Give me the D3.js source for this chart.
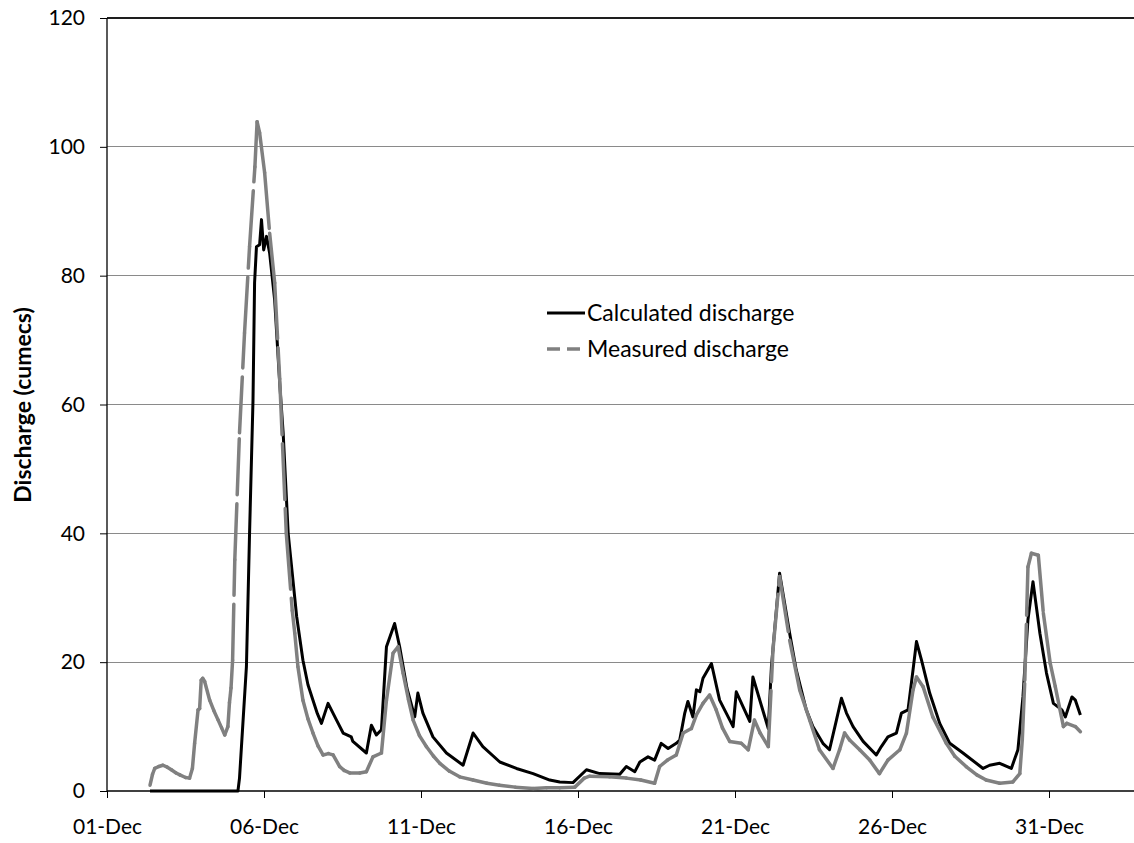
<!DOCTYPE html>
<html>
<head>
<meta charset="utf-8">
<script src="https://cdn.jsdelivr.net/npm/d3@7"></script>
<style>
  body { margin: 0; background: #fff; }
  svg { display: block; font-family: Lato, "Open Sans", sans-serif; }
</style>
</head>
<body>
<script>
// discharge series, [days since 01-Dec 00:00, cumecs]
var calculated = [
  [1.37,0],[4.17,0],[4.22,2],[4.44,19.3],[4.54,40],[4.65,60.7],[4.7,78.9],[4.76,84.5],[4.86,84.8],
  [4.92,88.7],[4.99,84],[5.08,86.1],[5.18,83.5],[5.34,76.2],[5.5,63.3],[5.61,55.6],[5.77,40],
  [6.04,27.1],[6.24,20.3],[6.4,16.5],[6.56,14.1],[6.7,12],[6.83,10.5],[7.04,13.6],[7.31,11.0],
  [7.52,9.0],[7.78,8.4],[7.83,7.7],[8.26,5.9],[8.42,10.2],[8.58,8.7],[8.74,9.5],[8.9,22.4],
  [9.16,26.0],[9.32,22.4],[9.55,16],[9.8,11.5],[9.9,15.2],[10.06,12.1],[10.38,8.4],[10.81,5.9],
  [11.34,4.0],[11.66,9.0],[11.97,6.9],[12.51,4.5],[13.04,3.5],[13.57,2.7],[14.1,1.7],[14.42,1.4],
  [14.84,1.3],[15.27,3.3],[15.69,2.7],[16.33,2.6],[16.54,3.8],[16.81,3.0],[16.97,4.5],[17.23,5.3],
  [17.44,4.8],[17.65,7.4],[17.87,6.6],[18.13,7.4],[18.24,7.9],[18.4,12.1],[18.5,13.9],[18.66,11.5],
  [18.77,15.7],[18.88,15.4],[18.98,17.5],[19.25,19.8],[19.51,14.1],[19.94,10.0],[20.04,15.4],
  [20.47,10.8],[20.57,17.7],[21.06,9.7],[21.16,19.3],[21.42,33.8],[21.74,24.5],[21.95,18.8],
  [22.11,15.7],[22.27,12.6],[22.48,10.0],[22.8,7.4],[23.01,6.4],[23.23,11.0],[23.39,14.4],
  [23.55,12.1],[23.76,10.0],[24.08,7.7],[24.5,5.6],[24.66,6.9],[24.87,8.4],[25.14,9.0],[25.3,12.1],
  [25.51,12.6],[25.67,18.8],[25.78,23.2],[25.94,20.3],[26.2,15.2],[26.52,10.5],[26.84,7.4],
  [27.26,5.9],[27.9,3.5],[28.11,4.0],[28.43,4.3],[28.8,3.5],[29.01,6.4],[29.17,14.6],[29.33,26.6],
  [29.49,32.5],[29.71,24.5],[29.92,18.3],[30.14,13.6],[30.41,12.6],[30.52,11.5],[30.73,14.6],
  [30.84,14.1],[31.0,11.8]
];

var measured = [
  [1.37,0.9],[1.45,2.6],[1.52,3.5],[1.65,3.8],[1.78,4.0],[1.92,3.7],[2.05,3.3],[2.2,2.8],[2.32,2.5],
  [2.5,2.1],[2.63,2.0],[2.72,3.5],[2.79,7.4],[2.9,12.6],[2.95,12.8],[3.0,17.2],[3.05,17.5],[3.11,17.0],
  [3.27,14.1],[3.4,12.5],[3.54,11.0],[3.65,9.8],[3.75,8.7],[3.85,10.0],[3.9,13.7],[3.95,16],[4.0,20.3],
  [4.07,35.9],[4.22,55.6],[4.38,71.1],[4.54,84.5],[4.71,96.9],[4.78,103.9],[4.86,102.2],[5.02,96.0],
  [5.18,86.6],[5.34,78.9],[5.5,64],[5.71,40.0],[5.9,28],[5.98,24.5],[6.08,19.3],[6.24,14.1],[6.4,11.2],
  [6.56,9.0],[6.72,7.0],[6.88,5.6],[7.05,5.8],[7.2,5.6],[7.41,3.8],[7.55,3.2],[7.73,2.8],[8.05,2.8],
  [8.26,3.0],[8.47,5.3],[8.74,5.9],[8.9,14.1],[9.11,21.4],[9.27,22.4],[9.43,18.3],[9.6,14.2],
  [9.75,11.0],[9.95,8.6],[10.17,6.9],[10.4,5.4],[10.6,4.3],[10.9,3.1],[11.23,2.2],[11.66,1.7],
  [12.1,1.2],[12.5,0.9],[13.0,0.6],[13.57,0.4],[14.0,0.5],[14.42,0.5],[14.9,0.6],[15.2,2.0],
  [15.37,2.3],[16.0,2.2],[16.54,2.0],[17.0,1.7],[17.44,1.2],[17.6,3.8],[17.85,4.8],[18.13,5.6],
  [18.35,9.0],[18.61,9.7],[18.77,11.8],[18.98,13.6],[19.19,14.9],[19.4,12.6],[19.6,9.8],[19.83,7.7],
  [20.2,7.4],[20.42,6.4],[20.62,11.0],[20.8,9.0],[21.06,6.9],[21.21,21.9],[21.42,33.3],[21.74,23.4],
  [22.06,15.7],[22.38,11.0],[22.69,6.4],[23.12,3.5],[23.33,6.4],[23.49,9.0],[23.65,7.9],[23.97,6.4],
  [24.29,4.8],[24.6,2.7],[24.87,4.8],[25.25,6.4],[25.46,9.0],[25.67,15.7],[25.78,17.7],[25.99,16.2],
  [26.3,11.5],[26.73,7.4],[27.0,5.4],[27.36,3.8],[27.7,2.5],[28.0,1.7],[28.43,1.2],[28.85,1.4],
  [29.07,2.7],[29.15,8],[29.23,17.2],[29.33,34.8],[29.44,36.9],[29.66,36.6],[29.82,27.6],
  [30.04,19.8],[30.2,16.2],[30.46,10.0],[30.57,10.5],[30.84,10.0],[31.0,9.2]
];

var tickLabels = ["01-Dec","06-Dec","11-Dec","16-Dec","21-Dec","26-Dec","31-Dec"];
var yTicks = [0,20,40,60,80,100,120];
var seriesNames = ["Calculated discharge","Measured discharge"];

var W = 1134, H = 843;
var margin = {top: 18, right: 0, bottom: 52, left: 107};
var width = W - margin.left - margin.right,
    height = H - margin.top - margin.bottom;

var start = new Date(2010, 11, 1);
function toDate(d) { return new Date(start.getTime() + d * 864e5); }
var parseTick = d3.timeParse("%d-%b-%Y");

var x = d3.scaleTime()
  .domain([start, toDate(width / 31.4)])
  .range([0, width]);
var y = d3.scaleLinear().domain([0, 120]).range([height, 0]);

var svg = d3.select("body").append("svg")
  .attr("width", W)
  .attr("height", H)
.append("g")
  .attr("transform", "translate(" + margin.left + "," + margin.top + ")");

// horizontal gridlines, top one darker like a frame
svg.append("g").selectAll("line")
  .data(yTicks.filter(function(v) { return v > 0; }))
  .enter().append("line")
  .attr("x1", 0).attr("x2", width)
  .attr("y1", function(d) { return y(d); })
  .attr("y2", function(d) { return y(d); })
  .attr("stroke", function(d) { return d === 120 ? "#1e1e1e" : "#8a8a8a"; })
  .attr("stroke-width", function(d) { return d === 120 ? 1.6 : 1; })
  .attr("shape-rendering", "crispEdges");

var tickDates = tickLabels.map(function(t) { return parseTick(t + "-2010"); });

var xAxis = svg.append("g")
  .attr("transform", "translate(0," + height + ")")
  .call(d3.axisBottom(x).tickValues(tickDates).tickSize(7).tickPadding(21)
    .tickFormat(d3.timeFormat("%d-%b")));
xAxis.select(".domain").attr("d", "M0,0H" + width).attr("stroke", "#000").attr("stroke-width", 1.3);

var yAxis = svg.append("g")
  .call(d3.axisLeft(y).tickValues(yTicks).tickSize(7).tickPadding(15));
yAxis.select(".domain").attr("d", "M0," + height + "V0").attr("stroke", "#000").attr("stroke-width", 1.3);

svg.selectAll(".tick text")
  .attr("font-family", "Lato, sans-serif")
  .attr("font-size", 21)
  .attr("fill", "#000");
svg.selectAll(".tick line").attr("stroke", "#000");

svg.append("text")
  .attr("transform", "translate(" + (31 - margin.left) + "," + (405 - margin.top) + ") rotate(-90)")
  .attr("text-anchor", "middle")
  .attr("font-family", "Lato, sans-serif")
  .attr("font-weight", "bold")
  .attr("font-size", 23)
  .text("Discharge (cumecs)");

var line = d3.line()
  .x(function(d) { return x(toDate(d[0])); })
  .y(function(d) { return y(d[1]); });

svg.append("path")
  .datum(calculated)
  .attr("d", line)
  .attr("fill", "none")
  .attr("stroke", "#000")
  .attr("stroke-width", 3)
  .attr("stroke-linejoin", "round");

// measured: dash pattern restarts on each segment, so only long steep stretches break up
svg.append("g").selectAll("path")
  .data(d3.pairs(measured))
  .enter().append("path")
  .attr("d", function(p) { return line(p); })
  .attr("fill", "none")
  .attr("stroke", "#808080")
  .attr("stroke-width", 3.5)
  .attr("stroke-linecap", "round")
  .attr("stroke-dasharray", "56,9");

// legend
var legend = svg.append("g")
  .attr("transform", "translate(" + (547 - margin.left) + "," + (313 - margin.top) + ")");
var item = legend.selectAll("g")
  .data(seriesNames)
  .enter().append("g")
  .attr("transform", function(d, i) { return "translate(0," + i * 36 + ")"; });
item.append("line")
  .attr("x1", 0).attr("x2", function(d, i) { return i ? 34 : 38; })
  .attr("stroke", function(d, i) { return i ? "#808080" : "#000"; })
  .attr("stroke-width", function(d, i) { return i ? 3.5 : 3; })
  .attr("stroke-dasharray", function(d, i) { return i ? "13,7" : null; });
item.append("text")
  .attr("x", 40)
  .attr("dy", "0.35em")
  .attr("font-family", "Lato, sans-serif")
  .attr("font-size", 23)
  .text(function(d) { return d; });
</script>
</body>
</html>
